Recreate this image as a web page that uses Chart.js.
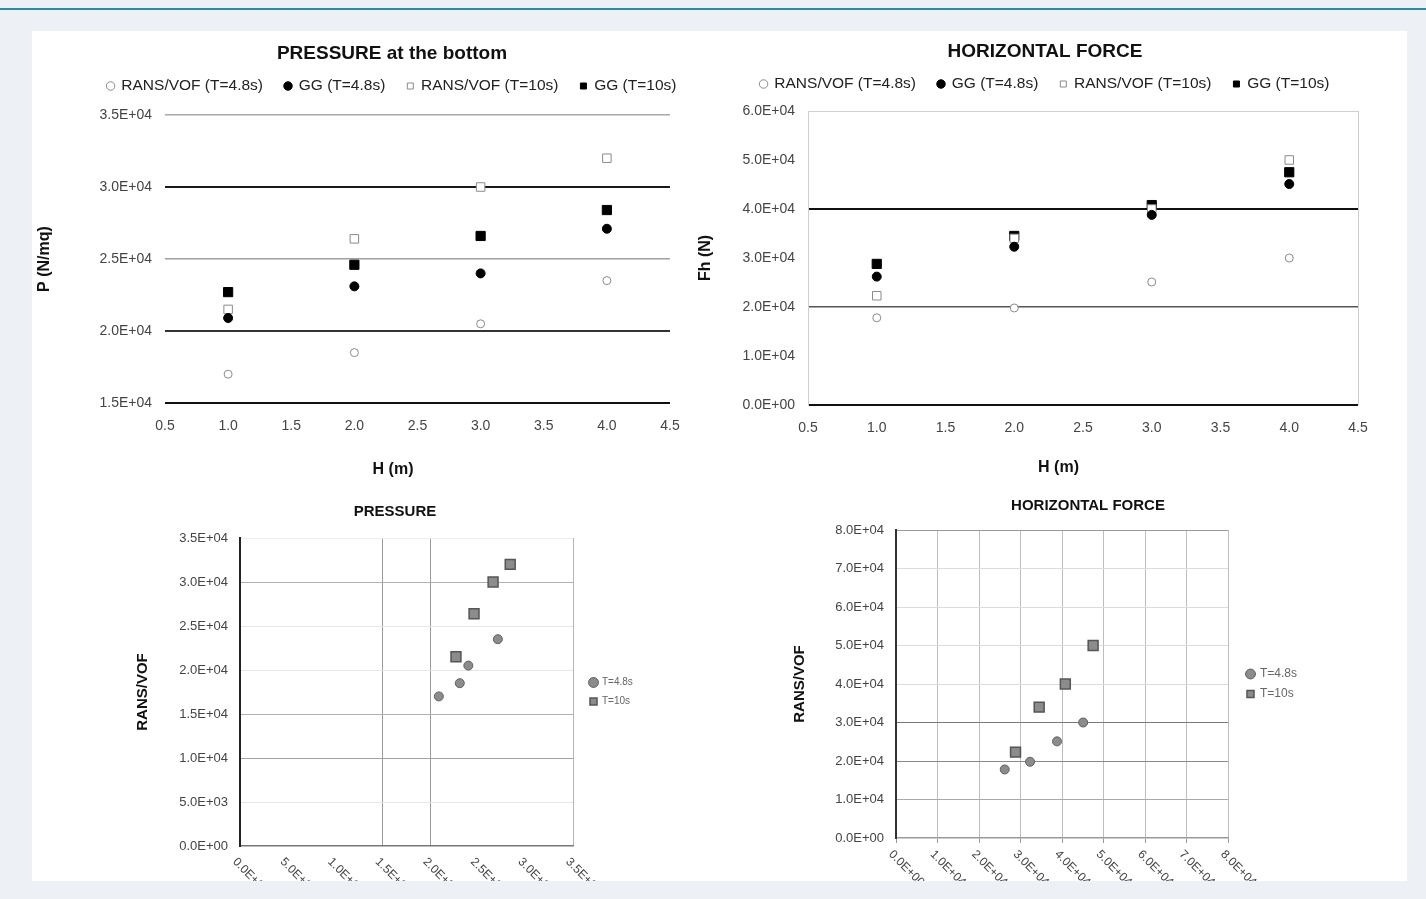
<!DOCTYPE html>
<html>
<head>
<meta charset="utf-8">
<script src="https://cdn.jsdelivr.net/npm/chart.js@4.4.1/dist/chart.umd.min.js"></script>
<style>
  body { margin: 0; width: 1426px; height: 899px; overflow: hidden; position: relative; background: #edf0f4; }
  #topline { position: absolute; left: 0; top: 8px; width: 1426px; height: 2px; background: #2a8c9c; }
  #panel { position: absolute; left: 32px; top: 31px; width: 1375px; height: 850px; background: #fff; overflow: hidden; }
  #panel canvas { position: absolute; }
</style>
</head>
<body>
<div id="topline"></div>
<div id="panel">
  <canvas id="pressureChart" width="720" height="455" style="left:0;top:0"></canvas>
  <canvas id="forceChart" width="710" height="455" style="left:658px;top:0"></canvas>
  <canvas id="pressureCompare" width="530" height="391" style="left:98px;top:459px"></canvas>
  <canvas id="forceCompare" width="616" height="391" style="left:748px;top:459px"></canvas>
</div>
<script>
// wave height H (m)
const hValues = [1.0, 2.0, 3.0, 4.0];
const seriesLabels = ['RANS/VOF (T=4.8s)', 'GG (T=4.8s)', 'RANS/VOF (T=10s)', 'GG (T=10s)'];
const periodLabels = ['T=4.8s', 'T=10s'];

// pressure at the bottom (N/mq)
const pressureRansT48 = [17000, 18500, 20500, 23500];
const pressureGgT48 = [20900, 23100, 24000, 27100];
const pressureRansT10 = [21500, 26400, 30000, 32000];
const pressureGgT10 = [22700, 24600, 26600, 28400];

// horizontal force (N)
const forceRansT48 = [17800, 19800, 25100, 30000];
const forceGgT48 = [26200, 32300, 38800, 45100];
const forceRansT10 = [22300, 34000, 40000, 50000];
const forceGgT10 = [28800, 34500, 40800, 47500];

Chart.defaults.font.family = "'Liberation Sans', Arial, sans-serif";
Chart.defaults.color = '#333';
Chart.defaults.animation = false;
Chart.defaults.plugins.tooltip.enabled = false;

const sci = v => {
    if (v === 0) return '0.0E+00';
    const e = Math.floor(Math.log10(Math.abs(v)) + 1e-9);
    const m = v / Math.pow(10, e);
    return m.toFixed(1) + 'E' + (e < 0 ? '-' : '+') + String(Math.abs(e)).padStart(2, '0');
};

const toPoints = (xs, ys) => xs.map((x, i) => ({ x: x, y: ys[i] }));

// grid line style per tick value: [color, width]
const gridColor = (map) => (ctx) => (ctx.tick && map[ctx.tick.value] ? map[ctx.tick.value][0] : 'rgba(0,0,0,0)');
const gridWidth = (map) => (ctx) => (ctx.tick && map[ctx.tick.value] ? map[ctx.tick.value][1] : 1);

// invisible axis used only to reserve space around the plot
const spacer = (axis, position, size, weight) => ({
    type: 'linear',
    axis: axis,
    position: position,
    weight: weight || 0,
    grid: { display: false },
    border: { display: false },
    ticks: { display: false },
    afterFit: (s) => {
        const v = typeof size === 'function' ? size(s) : size;
        if (axis === 'x') s.height = v; else s.width = v;
    }
});

// x tick labels slanted downwards like the spreadsheet export
const slantedTicks = {
    id: 'slantedTicks',
    afterDraw(chart, args, opts) {
        const scale = chart.scales.x;
        const ctx = chart.ctx;
        ctx.save();
        ctx.font = "12px 'Liberation Sans', Arial, sans-serif";
        ctx.fillStyle = '#444';
        ctx.textAlign = 'left';
        ctx.textBaseline = 'middle';
        scale.ticks.forEach((tick, i) => {
            ctx.save();
            ctx.translate(scale.getPixelForTick(i) + opts.dx, scale.top + opts.dy);
            ctx.rotate(Math.PI / 4);
            ctx.fillText(sci(tick.value), 0, 0);
            ctx.restore();
        });
        ctx.restore();
    }
};

// trailing blanks pull the centred axis title a little to the left, as in the original
const hTitle = 'H (m)' + ' '.repeat(11);

function versusH(id, cfg) {
    return new Chart(document.getElementById(id), {
        type: 'scatter',
        data: {
            datasets: [
                { label: seriesLabels[0], data: toPoints(hValues, cfg.ransT48), pointStyle: 'circle', pointRadius: 4, backgroundColor: '#fff', borderColor: '#8a8a8a', borderWidth: 1 },
                { label: seriesLabels[1], data: toPoints(hValues, cfg.ggT48), pointStyle: 'circle', pointRadius: 4.5, backgroundColor: '#000', borderColor: '#000', borderWidth: 1 },
                { label: seriesLabels[2], data: toPoints(hValues, cfg.ransT10), pointStyle: 'rect', pointRadius: 6, backgroundColor: '#fff', borderColor: '#8a8a8a', borderWidth: 1 },
                { label: seriesLabels[3], data: toPoints(hValues, cfg.ggT10), pointStyle: 'rect', pointRadius: 6.5, backgroundColor: '#000', borderColor: '#000', borderWidth: 1 }
            ]
        },
        options: {
            responsive: false,
            layout: { padding: 0 },
            plugins: {
                title: { display: true, text: cfg.title, color: '#111', font: { size: 19, weight: 'bold' }, padding: { top: cfg.titleTop, bottom: cfg.titleBottom } },
                legend: { labels: { usePointStyle: true, boxWidth: 6, boxHeight: 6, padding: 22, color: '#222', font: { size: 15.5 } } }
            },
            scales: {
                x: {
                    min: 0.5, max: 4.5,
                    ticks: { stepSize: 0.5, padding: 15, color: '#444', font: { size: 14 }, callback: v => v.toFixed(1) },
                    grid: { color: gridColor(cfg.xGrid), lineWidth: gridWidth(cfg.xGrid), drawTicks: false },
                    border: { display: false },
                    title: { display: true, text: hTitle, color: '#111', font: { size: 16, weight: 'bold' }, padding: { top: 0, bottom: cfg.xTitlePad } },
                    afterFit: s => { s.height = cfg.xHeight; }
                },
                y: {
                    min: cfg.yMin, max: cfg.yMax,
                    ticks: { stepSize: cfg.yStep, padding: 13, color: '#444', font: { size: 14 }, callback: v => sci(v) },
                    grid: { color: gridColor(cfg.yGrid), lineWidth: gridWidth(cfg.yGrid), drawTicks: false },
                    border: cfg.yBorder,
                    title: { display: true, text: cfg.yTitle, color: '#111', font: { size: 16, weight: 'bold' }, padding: { top: cfg.yTitlePad, bottom: 0 } },
                    afterFit: s => { s.width = cfg.yWidth; }
                },
                xTopGap: spacer('x', 'top', s => Math.max(0, cfg.plotTop - s.chart.titleBlock.height - s.chart.legend.height)),
                yRightGap: spacer('y', 'right', cfg.rightGap)
            }
        }
    });
}

function versusGG(id, cfg) {
    return new Chart(document.getElementById(id), {
        type: 'scatter',
        data: {
            datasets: [
                { label: periodLabels[0], data: toPoints(cfg.ggT48, cfg.ransT48), pointStyle: 'circle', pointRadius: 4.5, backgroundColor: '#8c8c8c', borderColor: '#5f5f5f', borderWidth: 1 },
                { label: periodLabels[1], data: toPoints(cfg.ggT10, cfg.ransT10), pointStyle: 'rect', pointRadius: 7, backgroundColor: '#8c8c8c', borderColor: '#555', borderWidth: 1.5 }
            ]
        },
        plugins: [slantedTicks],
        options: {
            responsive: false,
            layout: { padding: 0 },
            plugins: {
                title: { display: true, text: cfg.title, color: '#111', font: { size: 15, weight: 'bold' }, padding: { top: cfg.titleTop, bottom: cfg.titleBottom } },
                legend: { position: 'right', fullSize: false, labels: { usePointStyle: true, boxWidth: 7, boxHeight: 7, padding: cfg.legendPad, color: '#666', font: { size: cfg.legendFont } } },
                slantedTicks: { dx: -5.5, dy: cfg.tickDy }
            },
            scales: {
                x: {
                    min: 0, max: cfg.max,
                    ticks: { stepSize: cfg.step, display: false },
                    grid: { color: gridColor(cfg.xGrid), lineWidth: gridWidth(cfg.xGrid), drawTicks: cfg.xTicks, tickLength: 5, tickColor: '#999' },
                    border: { color: cfg.xBorder, width: 1.5 },
                    afterFit: s => { s.height = cfg.xHeight; }
                },
                y: {
                    min: 0, max: cfg.max,
                    ticks: { stepSize: cfg.step, padding: 12, color: '#444', font: { size: 13 }, callback: v => sci(v) },
                    grid: { color: gridColor(cfg.yGrid), lineWidth: gridWidth(cfg.yGrid), drawTicks: false },
                    border: { color: cfg.yBorder, width: 2 },
                    title: { display: true, text: 'RANS/VOF', color: '#111', font: { size: 15, weight: 'bold' }, padding: { top: cfg.yTitlePad, bottom: 0 } },
                    afterFit: s => { s.width = cfg.yWidth; }
                },
                yInnerGap: spacer('y', 'right', cfg.innerGap),
                yOuterGap: spacer('y', 'right', s => Math.max(0, cfg.width - cfg.plotRight - cfg.innerGap - s.chart.legend.width), 2000)
            }
        }
    });
}

versusH('pressureChart', {
    title: 'PRESSURE at the bottom', titleTop: 11.6, titleBottom: -9.15,
    ransT48: pressureRansT48, ggT48: pressureGgT48, ransT10: pressureRansT10, ggT10: pressureGgT10,
    yMin: 15000, yMax: 35000, yStep: 5000, yTitle: 'P (N/mq)', yTitlePad: 3.4,
    yGrid: { 35000: ['#a8a8a8', 1.5], 30000: ['#1a1a1a', 2], 25000: ['#a0a0a0', 1.5], 20000: ['#333', 2], 15000: ['#111', 2] },
    xGrid: {},
    yBorder: { display: false },
    yWidth: 133, rightGap: 82, plotTop: 84, xHeight: 83, xTitlePad: 6.4
});

versusH('forceChart', {
    title: 'HORIZONTAL FORCE', titleTop: 9.6, titleBottom: -9.15,
    ransT48: forceRansT48, ggT48: forceGgT48, ransT10: forceRansT10, ggT10: forceGgT10,
    yMin: 0, yMax: 60000, yStep: 10000, yTitle: 'Fh (N)', yTitlePad: 6.4,
    yGrid: { 60000: ['#cfcfcf', 1], 40000: ['#111', 2], 20000: ['#555', 1.5], 0: ['#111', 2] },
    xGrid: { 4.5: ['#cfcfcf', 1] },
    yBorder: { display: true, color: '#cfcfcf', width: 1 },
    yWidth: 118, rightGap: 42, plotTop: 80, xHeight: 81, xTitlePad: 8.4
});

versusGG('pressureCompare', {
    title: 'PRESSURE', titleTop: 13, titleBottom: 17,
    ransT48: pressureRansT48, ggT48: pressureGgT48, ransT10: pressureRansT10, ggT10: pressureGgT10,
    max: 35000, step: 5000,
    yGrid: { 35000: ['#ececec', 1], 30000: ['#b0b0b0', 1], 25000: ['#e6e6e6', 1], 20000: ['#e6e6e6', 1], 15000: ['#b0b0b0', 1], 10000: ['#a0a0a0', 1], 5000: ['#e6e6e6', 1] },
    xGrid: { 15000: ['#9a9a9a', 1], 20000: ['#9a9a9a', 1], 35000: ['#b5b5b5', 1] },
    xTicks: false, xBorder: '#777', yBorder: '#222',
    yWidth: 110, yTitlePad: 4, xHeight: 35, tickDy: 14,
    width: 530, plotRight: 443, innerGap: 8, legendPad: 9, legendFont: 10
});

versusGG('forceCompare', {
    title: 'HORIZONTAL FORCE', titleTop: 7, titleBottom: 15,
    ransT48: forceRansT48, ggT48: forceGgT48, ransT10: forceRansT10, ggT10: forceGgT10,
    max: 80000, step: 10000,
    yGrid: { 80000: ['#9a9a9a', 1], 70000: ['#dcdcdc', 1], 60000: ['#dcdcdc', 1], 50000: ['#dcdcdc', 1], 40000: ['#dcdcdc', 1], 30000: ['#7a7a7a', 1], 20000: ['#8a8a8a', 1], 10000: ['#aaaaaa', 1] },
    xGrid: { 10000: ['#bdbdbd', 1], 20000: ['#bdbdbd', 1], 30000: ['#bdbdbd', 1], 40000: ['#bdbdbd', 1], 50000: ['#bdbdbd', 1], 60000: ['#bdbdbd', 1], 70000: ['#bdbdbd', 1], 80000: ['#bdbdbd', 1] },
    xTicks: true, xBorder: '#999', yBorder: '#333',
    yWidth: 116, yTitlePad: 11, xHeight: 43, tickDy: 14.5,
    width: 616, plotRight: 448, innerGap: 11, legendPad: 8, legendFont: 12
});
</script>
</body>
</html>
